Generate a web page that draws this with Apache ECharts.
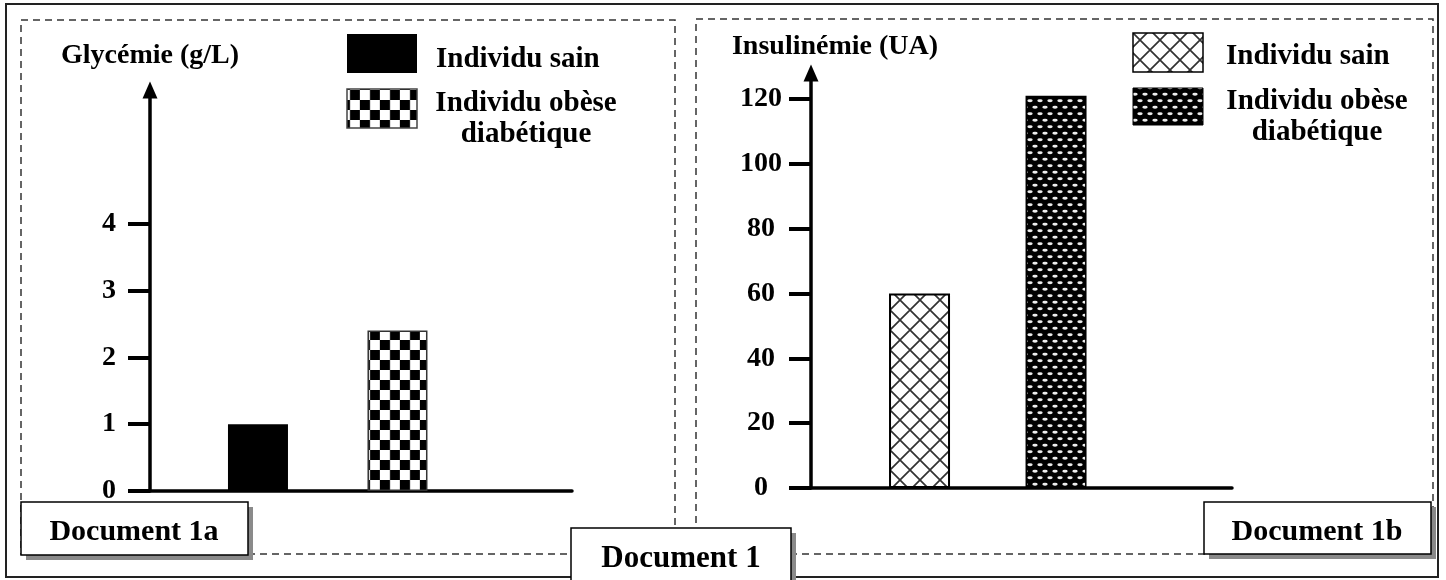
<!DOCTYPE html>
<html>
<head>
<meta charset="utf-8">
<script src="https://cdn.jsdelivr.net/npm/echarts@6/dist/echarts.min.js"></script>
<style>
html, body { margin: 0; padding: 0; background: #fff; }
#chart { width: 1446px; height: 580px; }
</style>
</head>
<body>
<div id="chart"></div>
<script>
// Document 1a : glycémie, Document 1b : insulinémie
const groups = ['Individu sain', 'Individu obèse diabétique'];
const groupPos = [1, 2];
const glycemie = [1.0, 2.4];
const glyTicks = [0, 1, 2, 3, 4];
const insulinemie = [60, 121];
const insTicks = [0, 20, 40, 60, 80, 100, 120];

const FONT = '"Liberation Serif", "Times New Roman", serif';

// motifs de remplissage
function makeTile(w, h, draw) {
  const c = document.createElement('canvas');
  c.width = w;
  c.height = h;
  draw(c.getContext('2d'));
  return { image: c, repeat: 'repeat' };
}

const checker = makeTile(20, 20, ctx => {
  ctx.fillStyle = '#fff';
  ctx.fillRect(0, 0, 20, 20);
  ctx.fillStyle = '#000';
  ctx.fillRect(0, 0, 10, 10);
  ctx.fillRect(10, 10, 10, 10);
  ctx.fillStyle = 'rgba(120,120,120,0.5)';
  ctx.fillRect(9.5, 0, 1, 20);
  ctx.fillRect(19.5, 0, 1, 20);
});

const cross = makeTile(20, 20, ctx => {
  ctx.fillStyle = '#fff';
  ctx.fillRect(0, 0, 20, 20);
  ctx.strokeStyle = '#333';
  ctx.lineWidth = 1.7;
  for (const k of [-20, 0, 20]) {
    ctx.beginPath();
    ctx.moveTo(k, 0); ctx.lineTo(k + 20, 20);
    ctx.moveTo(k + 20, 0); ctx.lineTo(k, 20);
    ctx.stroke();
  }
});

const dots = makeTile(10, 13, ctx => {
  ctx.fillStyle = '#000';
  ctx.fillRect(0, 0, 10, 13);
  ctx.fillStyle = '#ececec';
  for (const [x, y] of [[5, 3.25], [0, 9.75], [10, 9.75]]) {
    ctx.beginPath();
    ctx.ellipse(x, y, 2.7, 1.4, 0, 0, Math.PI * 2);
    ctx.fill();
  }
});

const glyStyles = [
  { color: '#000' },
  { color: checker, borderColor: '#333', borderWidth: 1.5 }
];
const insStyles = [
  { color: cross, borderColor: '#000', borderWidth: 2 },
  { color: dots, borderColor: '#000', borderWidth: 1.5 }
];

const txt = { color: '#000', fontFamily: FONT, fontWeight: 'bold' };

function xAxisOf(grid, min, max) {
  return {
    type: 'value', gridIndex: grid, min, max,
    axisLine: { show: true, onZero: false, lineStyle: { color: '#000', width: 3.5 } },
    axisTick: { show: false },
    axisLabel: { show: false },
    splitLine: { show: false }
  };
}

function yAxisOf(grid, max, ticks, name, nameGap, namePad, labelMargin) {
  return {
    type: 'value', gridIndex: grid, min: 0, max,
    name, nameLocation: 'end', nameGap,
    nameTextStyle: Object.assign({ fontSize: 28, padding: namePad }, txt),
    axisLine: {
      show: true, onZero: false,
      symbol: ['none', 'triangle'], symbolSize: [15, 17],
      lineStyle: { color: '#000', width: 3.5 }
    },
    axisTick: { show: true, customValues: ticks, length: 22, lineStyle: { color: '#000', width: 4 } },
    axisLabel: Object.assign({ customValues: ticks, margin: labelMargin, align: 'center', fontSize: 28 }, txt),
    splitLine: { show: false }
  };
}

function docBox(x, y, w, h, label, tx, ty, size) {
  return [
    { type: 'rect', shape: { x: x + 5, y: y + 5, width: w, height: h }, style: { fill: '#8a8a8a' } },
    { type: 'rect', shape: { x, y, width: w, height: h }, style: { fill: '#fff', stroke: '#000', lineWidth: 1.5 } },
    { type: 'text', style: { text: label, x: tx, y: ty, font: 'bold ' + size + 'px ' + FONT, fill: '#000', textAlign: 'center', textVerticalAlign: 'middle' } }
  ];
}

function legendText(text, x, y, align) {
  return {
    type: 'text',
    style: { text, x, y, font: 'bold 29px ' + FONT, fill: '#000', textAlign: align, textVerticalAlign: 'middle', lineHeight: 31 }
  };
}

const dashed = { fill: 'none', stroke: '#333', lineWidth: 1.5, lineDash: [7, 5] };

const graphics = [
  { type: 'rect', shape: { x: 6, y: 4, width: 1432, height: 573 }, style: { fill: 'none', stroke: '#222', lineWidth: 2 } },
  { type: 'rect', shape: { x: 21, y: 20, width: 654, height: 534 }, style: dashed },
  { type: 'rect', shape: { x: 696, y: 19, width: 737, height: 535 }, style: dashed },
  ...docBox(21, 502, 227, 53, 'Document 1a', 134, 532, 30),
  ...docBox(1204, 502, 227, 52, 'Document 1b', 1317, 532, 30),
  ...docBox(571, 528, 220, 60, 'Document 1', 681, 559, 31),
  // légende 1a
  { type: 'rect', shape: { x: 347, y: 34, width: 70, height: 39 }, style: { fill: '#000' } },
  legendText(groups[0], 436, 60, 'left'),
  { type: 'rect', shape: { x: 347, y: 89, width: 70, height: 39 }, style: { fill: checker, stroke: '#444', lineWidth: 1.5 } },
  legendText('Individu obèse\ndiabétique', 526, 119, 'center'),
  // légende 1b
  { type: 'rect', shape: { x: 1133, y: 33, width: 70, height: 39 }, style: { fill: cross, stroke: '#000', lineWidth: 1.5 } },
  legendText(groups[0], 1226, 57, 'left'),
  { type: 'rect', shape: { x: 1133, y: 88, width: 70, height: 37 }, style: { fill: dots, stroke: '#000', lineWidth: 1 } },
  legendText('Individu obèse\ndiabétique', 1317, 117, 'center')
];

const chart = echarts.init(document.getElementById('chart'));
chart.setOption({
  animation: false,
  backgroundColor: '#fff',
  grid: [
    { left: 150, top: 90, width: 422, height: 401 },
    { left: 811, top: 73, width: 421, height: 415 }
  ],
  xAxis: [xAxisOf(0, 0.226, 3.251), xAxisOf(1, 0.205, 3.289)],
  yAxis: [
    yAxisOf(0, 6, glyTicks, 'Glycémie (g/L)', 20, [0, 0, 0, 0], 41),
    yAxisOf(1, 128, insTicks, 'Insulinémie (UA)', 12, [0, 0, 0, 48], 50)
  ],
  series: [
    {
      type: 'bar', xAxisIndex: 0, yAxisIndex: 0, barWidth: 60,
      data: groupPos.map((x, i) => ({ name: groups[i], value: [x, glycemie[i]], itemStyle: glyStyles[i] }))
    },
    {
      type: 'bar', xAxisIndex: 1, yAxisIndex: 1, barWidth: 61,
      data: groupPos.map((x, i) => ({ name: groups[i], value: [x, insulinemie[i]], itemStyle: insStyles[i] }))
    }
  ],
  graphic: graphics
});
</script>
</body>
</html>
